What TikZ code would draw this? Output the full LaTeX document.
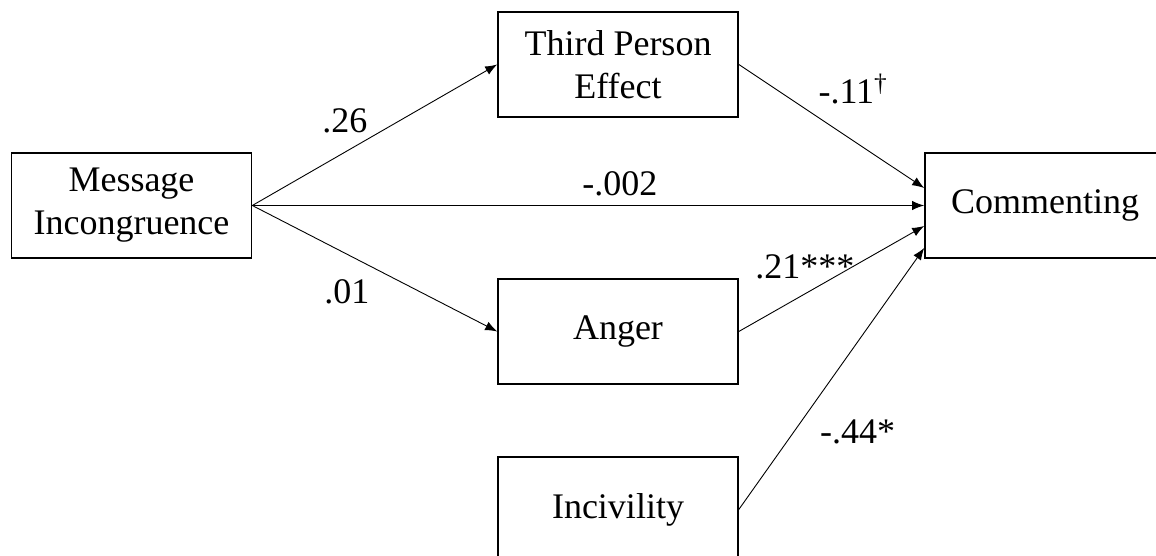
\documentclass[tikz,border=0pt]{standalone}
\usepackage{fontspec}
\setmainfont{Liberation Serif}
\usetikzlibrary{shapes,arrows.meta}
\usetikzlibrary{positioning}
\tikzstyle{block} = [rectangle, draw, line width=0.8pt, minimum width=120pt,
minimum height=52.5pt, align=center, inner sep=0pt]
\tikzstyle{line} = [draw, line width=0.45pt, -{Latex[length=6pt,width=4.6pt]}]
\tikzstyle{coef} = [inner sep=0pt]

\begin{document}
\begin{tikzpicture}[font=\fontsize{18}{21.5}\selectfont]
	% Frame
	\clip (-65.75pt,102.75pt) rectangle (512.25pt,-175.25pt);
	% Place nodes
	\node [block] (mi) {Message\\Incongruence};
	\node [block, right of=mi, node distance=456.75pt] (cmt) {Commenting};
	\coordinate [right of=mi, node distance=243.25pt] (mid);
	\node [block, above of=mid, node distance=70.5pt] (tpe) {Third Person\\Effect};
	\node [block, below of=mid, node distance=63pt] (ang) {Anger};
	\node [block, below of=ang, node distance=89pt] (inc) {Incivility};
	
	\path [line] (mi.east) -- node [coef, pos=.378, yshift=15.5pt] {.26} (tpe.west);
	\path [line] (mi.east) -- node [coef, pos=.547, yshift=10.75pt] {-.002} (cmt.west);
	\path [line] (mi.east) -- node [coef, pos=.386, yshift=-19pt] {.01} (ang.west);
	\path [line] (tpe.east) -- node [coef, pos=.617, yshift=25.9pt] {-.11\textsuperscript{\textdagger}} ([yshift=8.75pt]cmt.west);
	\path [line] (ang.east) -- node [coef, pos=.356, yshift=13.5pt] {.21***} ([yshift=-10.25pt]cmt.west);
	\path [line] (inc.east) -- node [coef, pos=.296, xshift=32pt] {-.44*} ([yshift=-21.25pt]cmt.west);
	
\end{tikzpicture}
\end{document}
